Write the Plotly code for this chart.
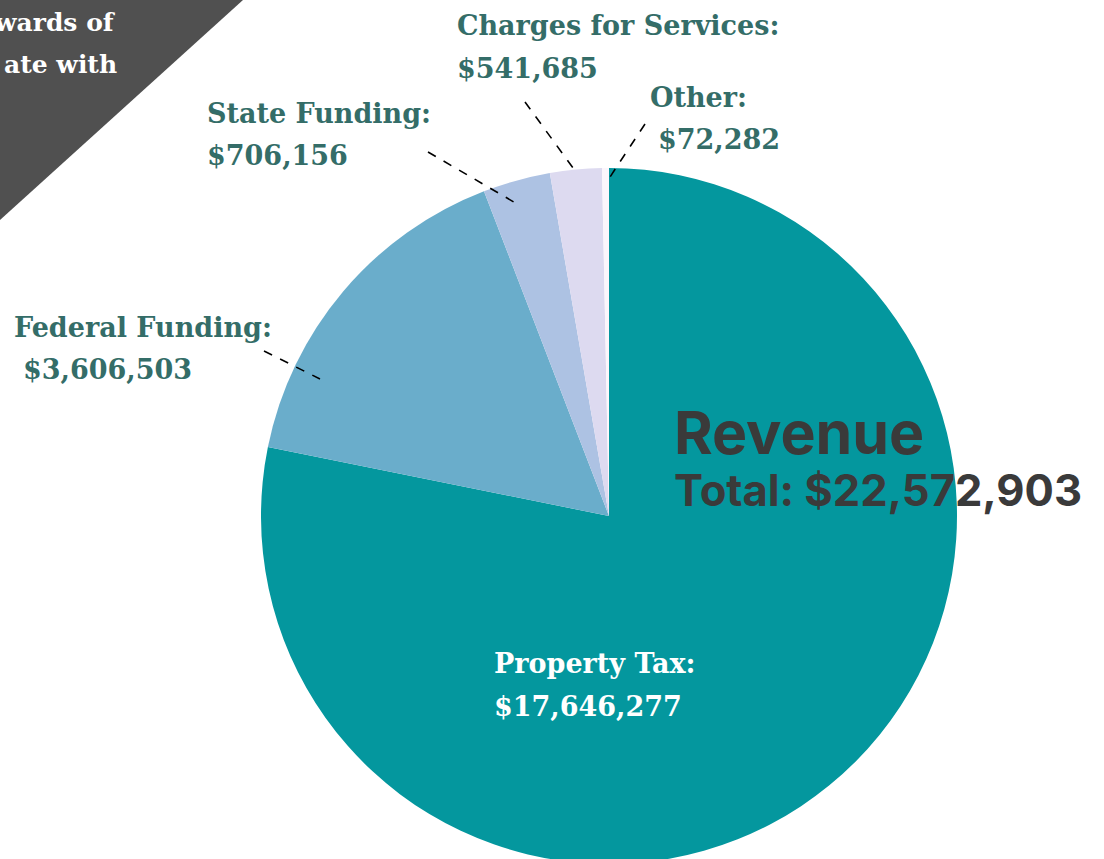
import plotly.graph_objects as go

W, H = 1104, 880

labels = ["Property Tax", "Federal Funding", "State Funding", "Charges for Services", "Other"]
values = [17646277, 3606503, 706156, 541685, 72282]
colors = ["#04979E", "#6AADCB", "#ADC2E3", "#DDDAF0", "#FBF6FC"]
total = sum(values)

def px(x):
    return x / W

def py(y):
    return 1 - y / H

# pie geometry in pixels
cx, cy, r = 609, 516, 348

fig = go.Figure()
fig.add_trace(go.Pie(
    labels=labels, values=values, sort=False, direction="clockwise", rotation=0,
    marker=dict(colors=colors, line=dict(width=0)),
    textinfo="none", hoverinfo="label+value", showlegend=False,
    domain=dict(x=[px(cx - r), px(cx + r)], y=[py(cy + r), py(cy - r)]),
))

serif = "DejaVu Serif"
lab_col = "#346D68"
fs = 27

def fmt(v):
    return "${:,}".format(v)

# label placement (pixels: left x, first-line y center, second-line left x)
label_pos = {
    "Charges for Services": (455, 25, 455),
    "Other": (648, 97, 656),
    "State Funding": (205, 113, 205),
    "Federal Funding": (12, 327, 21),
    "Property Tax": (492, 663, 492),
}
for lab, v in zip(labels, values):
    x1, y1, x2 = label_pos[lab]
    col = "white" if lab == "Property Tax" else lab_col
    fig.add_annotation(x=px(x1), y=py(y1), xref="paper", yref="paper", xanchor="left", yanchor="middle",
                       text="<b>" + lab + ":</b>", showarrow=False,
                       font=dict(family=serif, size=fs, color=col))
    fig.add_annotation(x=px(x2), y=py(y1 + 43), xref="paper", yref="paper", xanchor="left", yanchor="middle",
                       text="<b>" + fmt(v) + "</b>", showarrow=False,
                       font=dict(family=serif, size=fs, color=col))

# leader lines (pixels)
leaders = [
    ((525, 102), (576, 172)),
    ((645, 124), (610, 177)),
    ((428, 152), (519, 205)),
    ((264, 351), (320, 379)),
]
for (xa, ya), (xb, yb) in leaders:
    fig.add_shape(type="line", xref="paper", yref="paper",
                  x0=px(xa), y0=py(ya), x1=px(xb), y1=py(yb),
                  line=dict(color="black", width=1.6, dash="dash"))

# dark corner triangle
fig.add_shape(type="path", xref="paper", yref="paper",
              path=f"M 0 1 L {px(243)} 1 L 0 {py(220)} Z",
              fillcolor="#505050", line=dict(width=0), layer="below")
fig.add_annotation(x=px(118), y=py(22), xref="paper", yref="paper", xanchor="right", yanchor="middle",
                   text="<b>wards of</b>", showarrow=False, font=dict(family=serif, size=25, color="white"))
fig.add_annotation(x=px(119), y=py(64), xref="paper", yref="paper", xanchor="right", yanchor="middle",
                   text="<b>ate with</b>", showarrow=False, font=dict(family=serif, size=25, color="white"))

# title
fig.add_annotation(x=px(672), y=py(432), xref="paper", yref="paper", xanchor="left", yanchor="middle",
                   text="<b>Revenue</b>", showarrow=False,
                   font=dict(family="Inter", size=59, color="#3A3A3A", weight=800))
fig.add_annotation(x=px(672), y=py(490), xref="paper", yref="paper", xanchor="left", yanchor="middle",
                   text="<b>Total: " + fmt(total) + "</b>", showarrow=False,
                   font=dict(family="Inter", size=43.5, color="#3A3A3A", weight=800))

fig.update_layout(width=W, height=H, margin=dict(l=0, r=0, t=0, b=0),
                  paper_bgcolor="white", plot_bgcolor="white")
fig.write_html("out.html", config={"displayModeBar": False},
               post_script="document.body.style.margin='0';document.body.style.overflow='hidden';"
                           "document.documentElement.style.overflow='hidden';")
